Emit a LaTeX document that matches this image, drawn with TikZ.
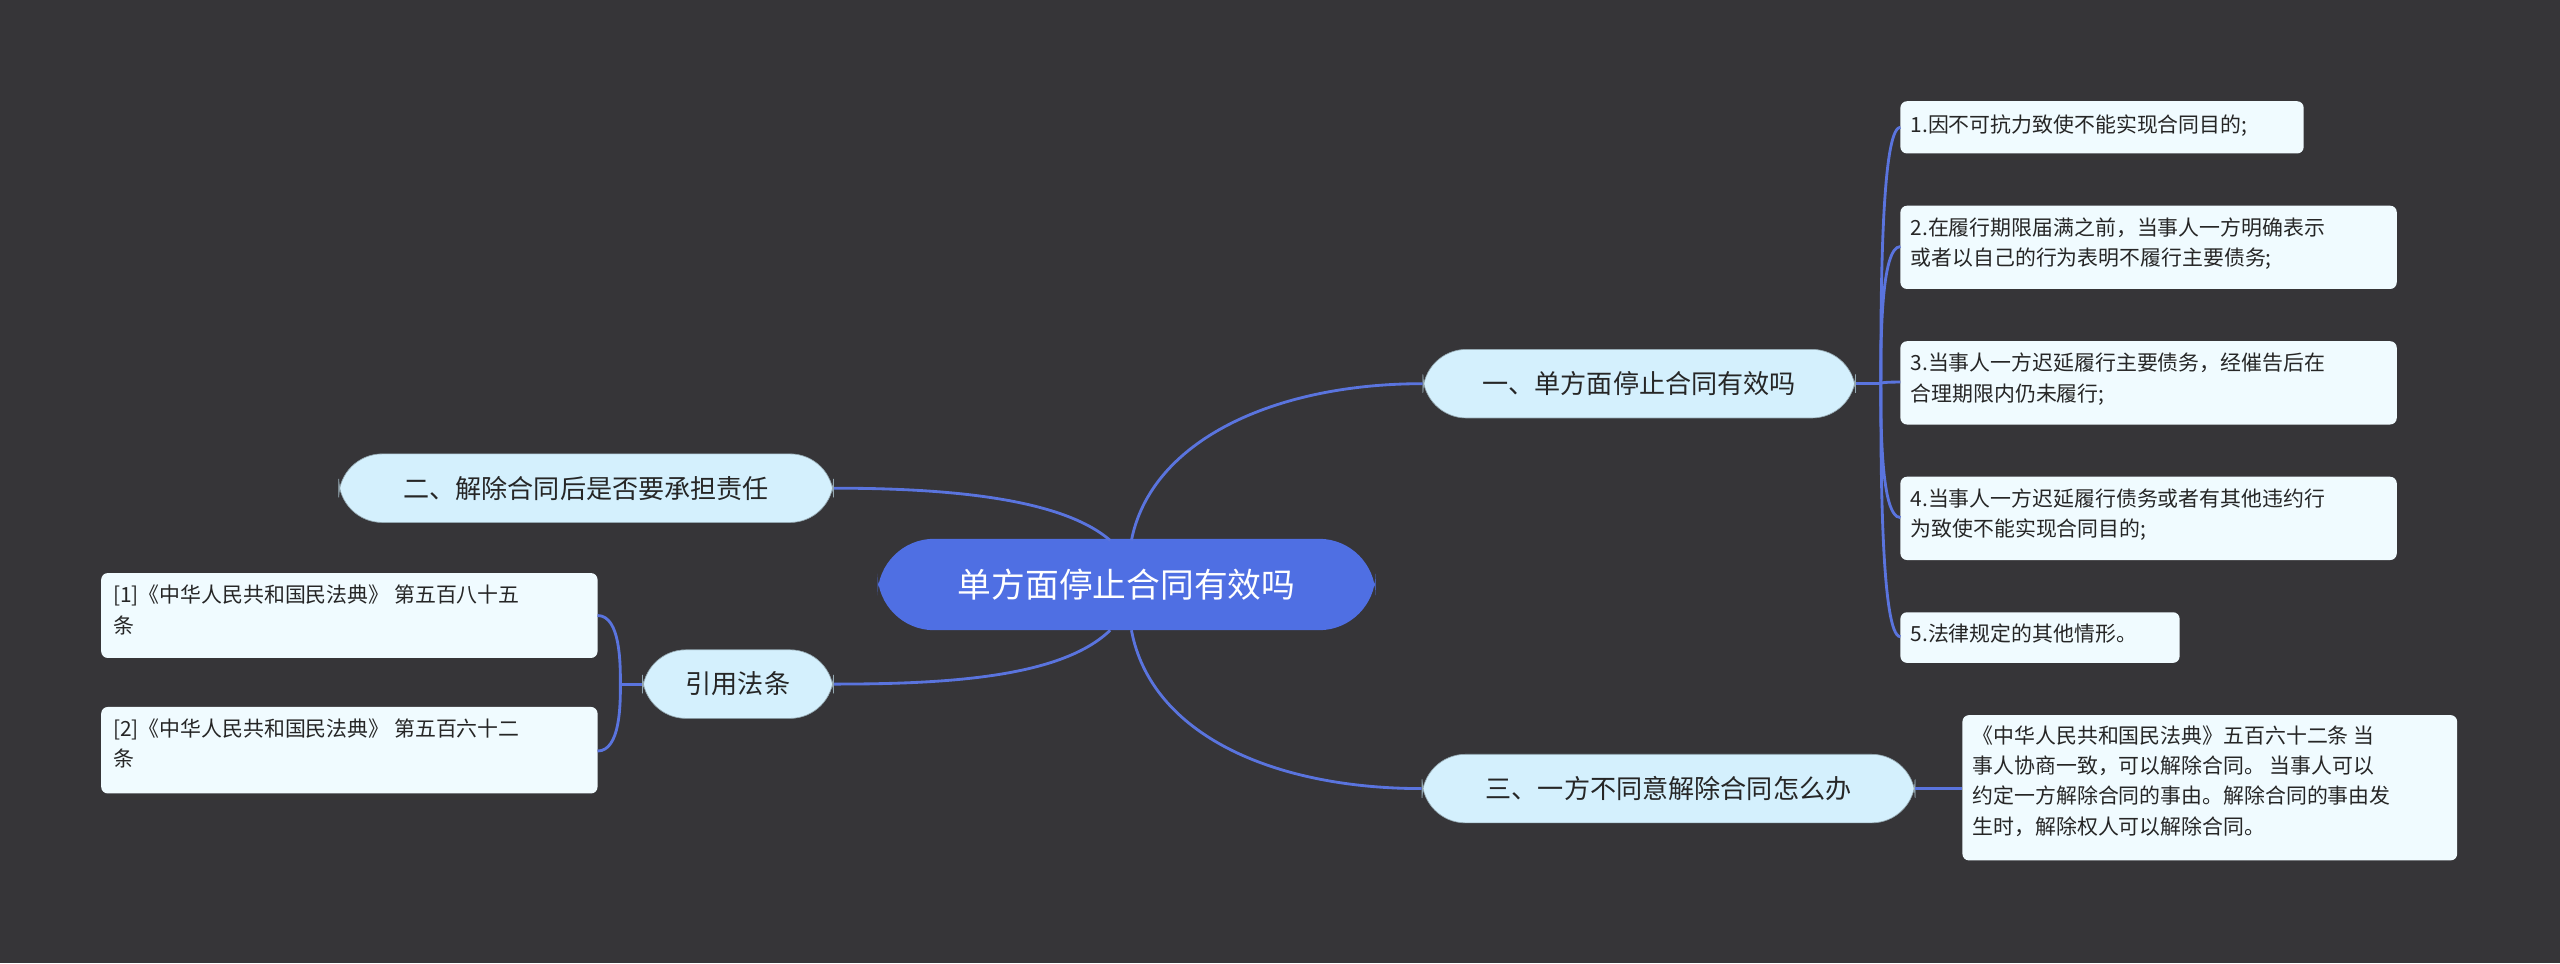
\documentclass[tikz,border=0pt]{standalone}
\usepackage{fontspec}
\setmainfont{Noto Sans CJK SC}
\begin{document}
\begin{tikzpicture}[x=0.75pt,y=-0.75pt,
 rootn/.style={fill=rootc,text=white,rounded corners=26,minimum height=56*0.75pt,font=\fontsize{15.5}{18}\selectfont,inner xsep=0pt},
 lone/.style={fill=lonec,draw=lonec!70!black,line width=0.3pt,rounded corners=20,minimum height=42*0.75pt,font=\fontsize{12}{14}\selectfont,inner xsep=0pt,text=black!85},
 leaf/.style={fill=leafc,rounded corners=3,anchor=north west,font=\fontsize{9.6}{14}\selectfont,align=left,inner sep=0pt,text=black!85},
 con/.style={draw=linec,line width=1.3pt}]
\definecolor{bg}{HTML}{363538}
\definecolor{rootc}{HTML}{4F6FE3}
\definecolor{lonec}{HTML}{D4F0FD}
\definecolor{leafc}{HTML}{F0FBFF}
\definecolor{linec}{HTML}{5A74DE}
\fill[bg] (0,0) rectangle (1568,590);
\useasboundingbox (0,0) rectangle (1568,590);
\node[rootn,minimum width=305*0.75pt] (root) at (690,358) {单方面停止合同有效吗};
\node[lone,minimum width=265*0.75pt] (a) at (1004,235) {一、单方面停止合同有效吗};
\node[lone,minimum width=303*0.75pt] (b) at (359,299) {二、解除合同后是否要承担责任};
\node[lone,minimum width=117*0.75pt] (c) at (452,419) {引用法条};
\node[lone,minimum width=302*0.75pt] (d) at (1022,483) {三、一方不同意解除合同怎么办};
% leaves
\path[leaf] (1164,62) rectangle (1411,94); \node[leaf] (l1) at (1170,70) {1.因不可抗力致使不能实现合同目的;};
\path[leaf] (1164,126) rectangle (1468,177); \node[leaf] (l2) at (1170,133) {2.在履行期限届满之前，当事人一方明确表示\\或者以自己的行为表明不履行主要债务;};
\path[leaf] (1164,209) rectangle (1468,260); \node[leaf] (l3) at (1170,216) {3.当事人一方迟延履行主要债务，经催告后在\\合理期限内仍未履行;};
\path[leaf] (1164,292) rectangle (1468,343); \node[leaf] (l4) at (1170,299) {4.当事人一方迟延履行债务或者有其他违约行\\为致使不能实现合同目的;};
\path[leaf] (1164,375) rectangle (1335,406); \node[leaf] (l5) at (1170,382) {5.法律规定的其他情形。};
\path[leaf] (1202,438) rectangle (1505,527); \node[leaf] (l6) at (1208,444) {《中华人民共和国民法典》五百六十二条 当\\事人协商一致，可以解除合同。 当事人可以\\约定一方解除合同的事由。解除合同的事由发\\生时，解除权人可以解除合同。};
\path[leaf] (62,351) rectangle (366,403); \node[leaf] (m1) at (69,358) {[1]《中华人民共和国民法典》 第五百八十五\\条};
\path[leaf] (62,433) rectangle (366,486); \node[leaf] (m2) at (69,440) {[2]《中华人民共和国民法典》 第五百六十二\\条};
\coordinate (rt) at (693,331); \coordinate (rb) at (693,386);
\coordinate (lt) at (680,331); \coordinate (lb) at (680,386);
\draw[con] (rt) .. controls (705,270) and (780,235) .. (a.west);
\draw[con] (rb) .. controls (705,450) and (780,483) .. (d.west);
\draw[con] (lt) .. controls (650,305) and (580,299) .. (b.east);
\draw[con] (lb) .. controls (650,415) and (580,419) .. (c.east);
\coordinate (ab) at (1152,235);
\draw[con] (a.east) -- (ab);
\foreach \y in {78,151,234,317,390}{
 \draw[con] (ab) .. controls (1152,{235+(\y-235)*0.3}) and (1152,\y) .. (1164,\y);}
\draw[con] (d.east) -- (1202,483);
\coordinate (cb) at (380,419);
\draw[con] (c.west) -- (cb);
\foreach \y in {377,460}{
 \draw[con] (cb) .. controls (380,{419+(\y-419)*0.3}) and (380,\y) .. (366,\y);}
\end{tikzpicture}
\end{document}
